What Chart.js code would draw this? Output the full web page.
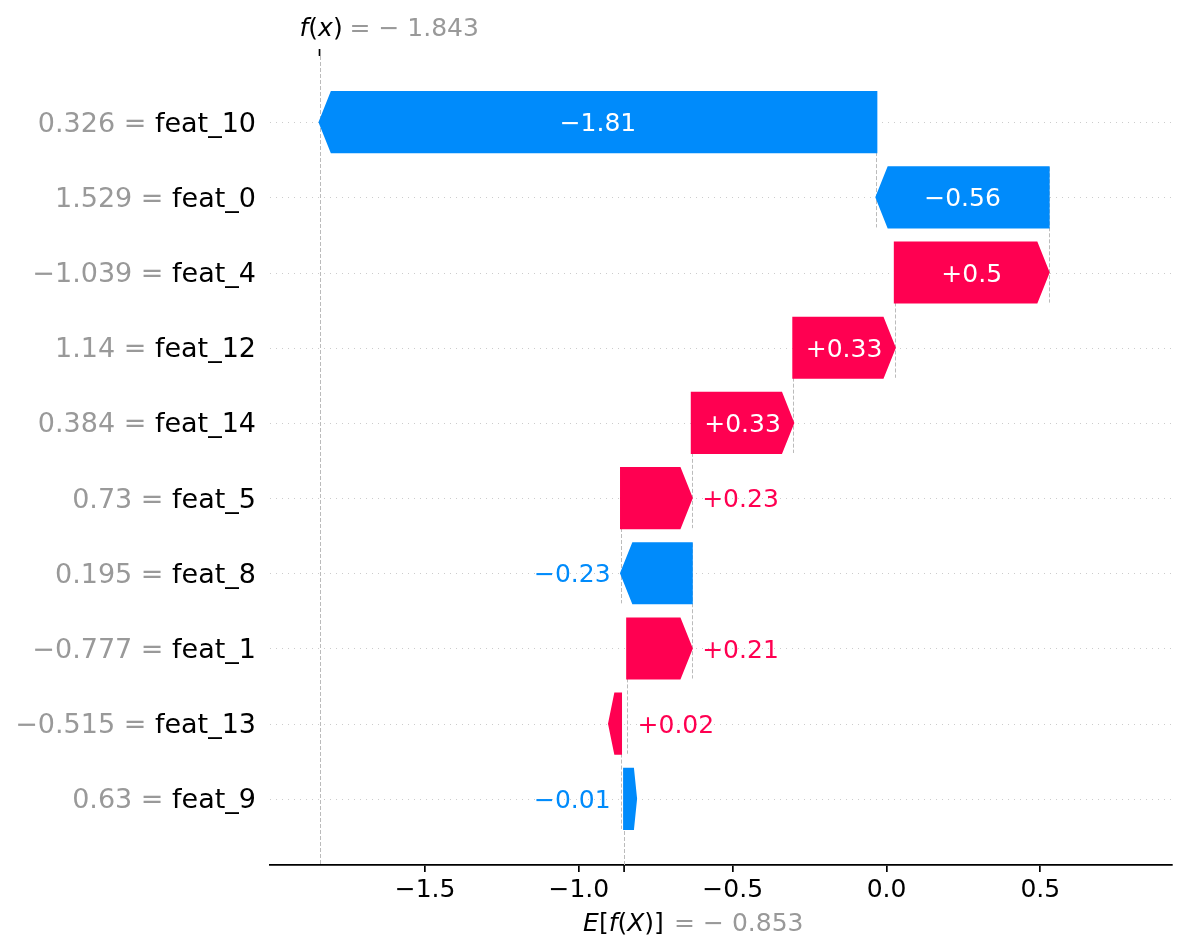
<!DOCTYPE html>
<html>
<head>
<meta charset="utf-8">
<script src="https://cdn.jsdelivr.net/npm/chart.js@4.4.1/dist/chart.umd.min.js"></script>
<style>
  body { margin: 0; background: #fff; }
  #wrap { width: 1185px; height: 950px; }
</style>
</head>
<body>
<div id="wrap"><canvas id="waterfall" width="1185" height="950"></canvas></div>
<script>
// waterfall rows, top row first
const features = ['feat_10', 'feat_0', 'feat_4', 'feat_12', 'feat_14', 'feat_5', 'feat_8', 'feat_1', 'feat_13', 'feat_9'];
const featureValues = ['0.326', '1.529', '\u22121.039', '1.14', '0.384', '0.73', '0.195', '\u22120.777', '\u22120.515', '0.63'];
const shapValues = [-1.81, -0.56, 0.5, 0.33, 0.33, 0.23, -0.23, 0.21, 0.02, -0.01];
const baseValue = -0.853;
const xTicks = [-1.5, -1.0, -0.5, 0.0, 0.5];
const xRange = [-2.004, 0.928];

const RED = '#ff0051';
const BLUE = '#008bfb';
const GRAY = '#999999';
const FONT = '"DejaVu Sans", sans-serif';
const BAR_HALF = 0.4; // half bar height, in rows

// bars are stacked from the bottom row (base value) upwards
const starts = [];
let running = baseValue;
for (let i = shapValues.length - 1; i >= 0; i--) {
  starts[i] = running;
  running += shapValues[i];
}
const fx = running;

const barData = shapValues.map((v, i) => ({ x: [starts[i], starts[i] + v], y: i }));

function minus(s) {
  return s.replace('-', '\u2212');
}

function fmtTick(v) {
  return minus(Number(v).toFixed(1));
}

function fmtVal(v) {
  const s = Math.abs(v).toFixed(2).replace(/0+$/, '').replace(/\.$/, '');
  return (v < 0 ? '\u2212' : '+') + s;
}

function vline(ctx, x, y1, y2) {
  ctx.beginPath();
  ctx.moveTo(x, y1);
  ctx.lineTo(x, y2);
  ctx.stroke();
}

// draws [text, italic] pieces one after the other
function drawMath(ctx, parts, x, y, color) {
  ctx.fillStyle = color;
  ctx.textAlign = 'left';
  ctx.textBaseline = 'alphabetic';
  parts.forEach(([t, it]) => {
    ctx.font = (it ? 'italic ' : '') + '25px ' + FONT;
    ctx.fillText(t, x, y);
    x += ctx.measureText(t).width;
  });
}

const waterfallPlugin = {
  id: 'waterfall',
  beforeDatasetsDraw(chart) {
    const { ctx, chartArea: a, scales: { x, y } } = chart;
    ctx.save();
    ctx.lineWidth = 1;

    // dotted row guides
    ctx.strokeStyle = '#cccccc';
    ctx.setLineDash([1, 5]);
    features.forEach((f, i) => {
      const py = Math.round(y.getPixelForValue(i)) + 0.5;
      ctx.beginPath();
      ctx.moveTo(a.left, py);
      ctx.lineTo(a.right, py);
      ctx.stroke();
    });

    // dashed connectors between bars
    ctx.strokeStyle = '#bbbbbb';
    ctx.setLineDash([4, 2]);
    for (let i = 0; i < features.length - 1; i++) {
      const px = Math.round(x.getPixelForValue(starts[i])) + 0.5;
      vline(ctx, px, y.getPixelForValue(i - BAR_HALF), y.getPixelForValue(i + 1 + BAR_HALF));
    }
    // base value and f(x) lines
    const pb = Math.round(x.getPixelForValue(baseValue)) + 0.5;
    vline(ctx, pb, a.bottom, a.bottom - (a.bottom - a.top) / features.length);
    const pf = Math.round(x.getPixelForValue(fx)) + 0.5;
    vline(ctx, pf, a.top, a.bottom);
    ctx.restore();
  },
  afterDatasetsDraw(chart) {
    const { ctx, scales: { x, y } } = chart;
    const meta = chart.getDatasetMeta(0);
    const hl = 12;
    ctx.save();
    ctx.font = '25px ' + FONT;
    ctx.textBaseline = 'alphabetic';
    ctx.lineWidth = 2;
    ctx.lineJoin = 'miter';
    shapValues.forEach((v, i) => {
      const yc = meta.data[i].y;
      const h = Math.abs(y.getPixelForValue(i + BAR_HALF) - y.getPixelForValue(i - BAR_HALF));
      const S = x.getPixelForValue(starts[i]);
      const D = x.getPixelForValue(starts[i] + v) - S;
      const color = v > 0 ? RED : BLUE;

      // arrow the way matplotlib builds it (short ones flip round)
      const dx = D > 0 ? D - hl : D + hl;
      const hlen = Math.min(Math.abs(D), hl);
      const u = dx >= 0 ? 1 : -1;
      const hb = S + dx;
      const tip = hb + u * hlen;
      ctx.fillStyle = color;
      ctx.strokeStyle = color;
      ctx.beginPath();
      ctx.moveTo(S, yc - h / 2);
      ctx.lineTo(hb, yc - h / 2);
      ctx.lineTo(tip, yc);
      ctx.lineTo(hb, yc + h / 2);
      ctx.lineTo(S, yc + h / 2);
      ctx.closePath();
      ctx.fill();
      ctx.stroke();

      // value label, inside when it fits
      const txt = fmtVal(v);
      const tw = ctx.measureText(txt).width;
      const by = yc + 9.1;
      if (tw <= Math.abs(D)) {
        ctx.fillStyle = '#ffffff';
        ctx.textAlign = 'center';
        ctx.fillText(txt, S + D / 2, by);
      } else if (v > 0) {
        ctx.fillStyle = RED;
        ctx.textAlign = 'left';
        ctx.fillText(txt, S + D + 10.4, by);
      } else {
        ctx.fillStyle = BLUE;
        ctx.textAlign = 'right';
        ctx.fillText(txt, S + D - 10.4, by);
      }
    });
    ctx.restore();
  },
  afterDraw(chart) {
    const { ctx, chartArea: a, scales: { x, y } } = chart;
    ctx.save();

    // feature labels: "value = name"
    ctx.font = '27px ' + FONT;
    ctx.textBaseline = 'alphabetic';
    ctx.textAlign = 'right';
    const rx = a.left - 14;
    features.forEach((f, i) => {
      const by = y.getPixelForValue(i) + 9.5;
      const wn = ctx.measureText(f).width;
      ctx.fillStyle = '#000000';
      ctx.fillText(f, rx, by);
      ctx.fillStyle = GRAY;
      ctx.fillText(featureValues[i] + ' = ', rx - wn, by);
    });

    // extra ticks for f(x) on top and E[f(X)] at the bottom
    ctx.strokeStyle = '#000000';
    ctx.lineWidth = 1.7;
    const pf = x.getPixelForValue(fx);
    const pb = x.getPixelForValue(baseValue);
    vline(ctx, pf, a.top, a.top - 7);
    vline(ctx, pb, a.bottom, a.bottom + 7);

    drawMath(ctx, [['f', true], ['(', false], ['x', true], [')', false]], pf - 20, 36, '#000000');
    drawMath(ctx, [['= \u2212 ' + Math.abs(fx).toFixed(3), false]], pf + 30, 36, GRAY);

    drawMath(ctx, [['E', true], ['[', false], ['f', true], ['(', false], ['X', true], [')]', false]], pb - 41, 931, '#000000');
    drawMath(ctx, [['= \u2212 ' + Math.abs(baseValue).toFixed(3), false]], pb + 50, 931, GRAY);
    ctx.restore();
  }
};

const ctx = document.getElementById('waterfall').getContext('2d');
new Chart(ctx, {
  type: 'bar',
  data: {
    datasets: [{
      data: barData,
      backgroundColor: 'rgba(0,0,0,0)',
      borderWidth: 0,
      barPercentage: 0.83,
      categoryPercentage: 1.0
    }]
  },
  options: {
    indexAxis: 'y',
    responsive: false,
    animation: false,
    devicePixelRatio: 1,
    layout: { padding: { left: 270, right: 13, top: 56, bottom: 0 } },
    plugins: {
      legend: { display: false },
      tooltip: { enabled: false }
    },
    scales: {
      x: {
        type: 'linear',
        bounds: 'data',
        min: xRange[0],
        max: xRange[1],
        afterBuildTicks: scale => { scale.ticks = xTicks.map(v => ({ value: v })); },
        afterFit: scale => { scale.height = 85; },
        grid: { drawOnChartArea: false, color: '#000000', lineWidth: 1.7, tickLength: 7 },
        border: { display: true, color: '#000000', width: 1.7 },
        ticks: {
          color: '#000000',
          font: { family: FONT, size: 25 },
          padding: 3,
          callback: v => fmtTick(v)
        }
      },
      y: {
        type: 'linear',
        reverse: true,
        offset: false,
        bounds: 'data',
        min: -0.88,
        max: 9.88,
        display: false
      }
    }
  },
  plugins: [waterfallPlugin]
});
</script>
</body>
</html>
